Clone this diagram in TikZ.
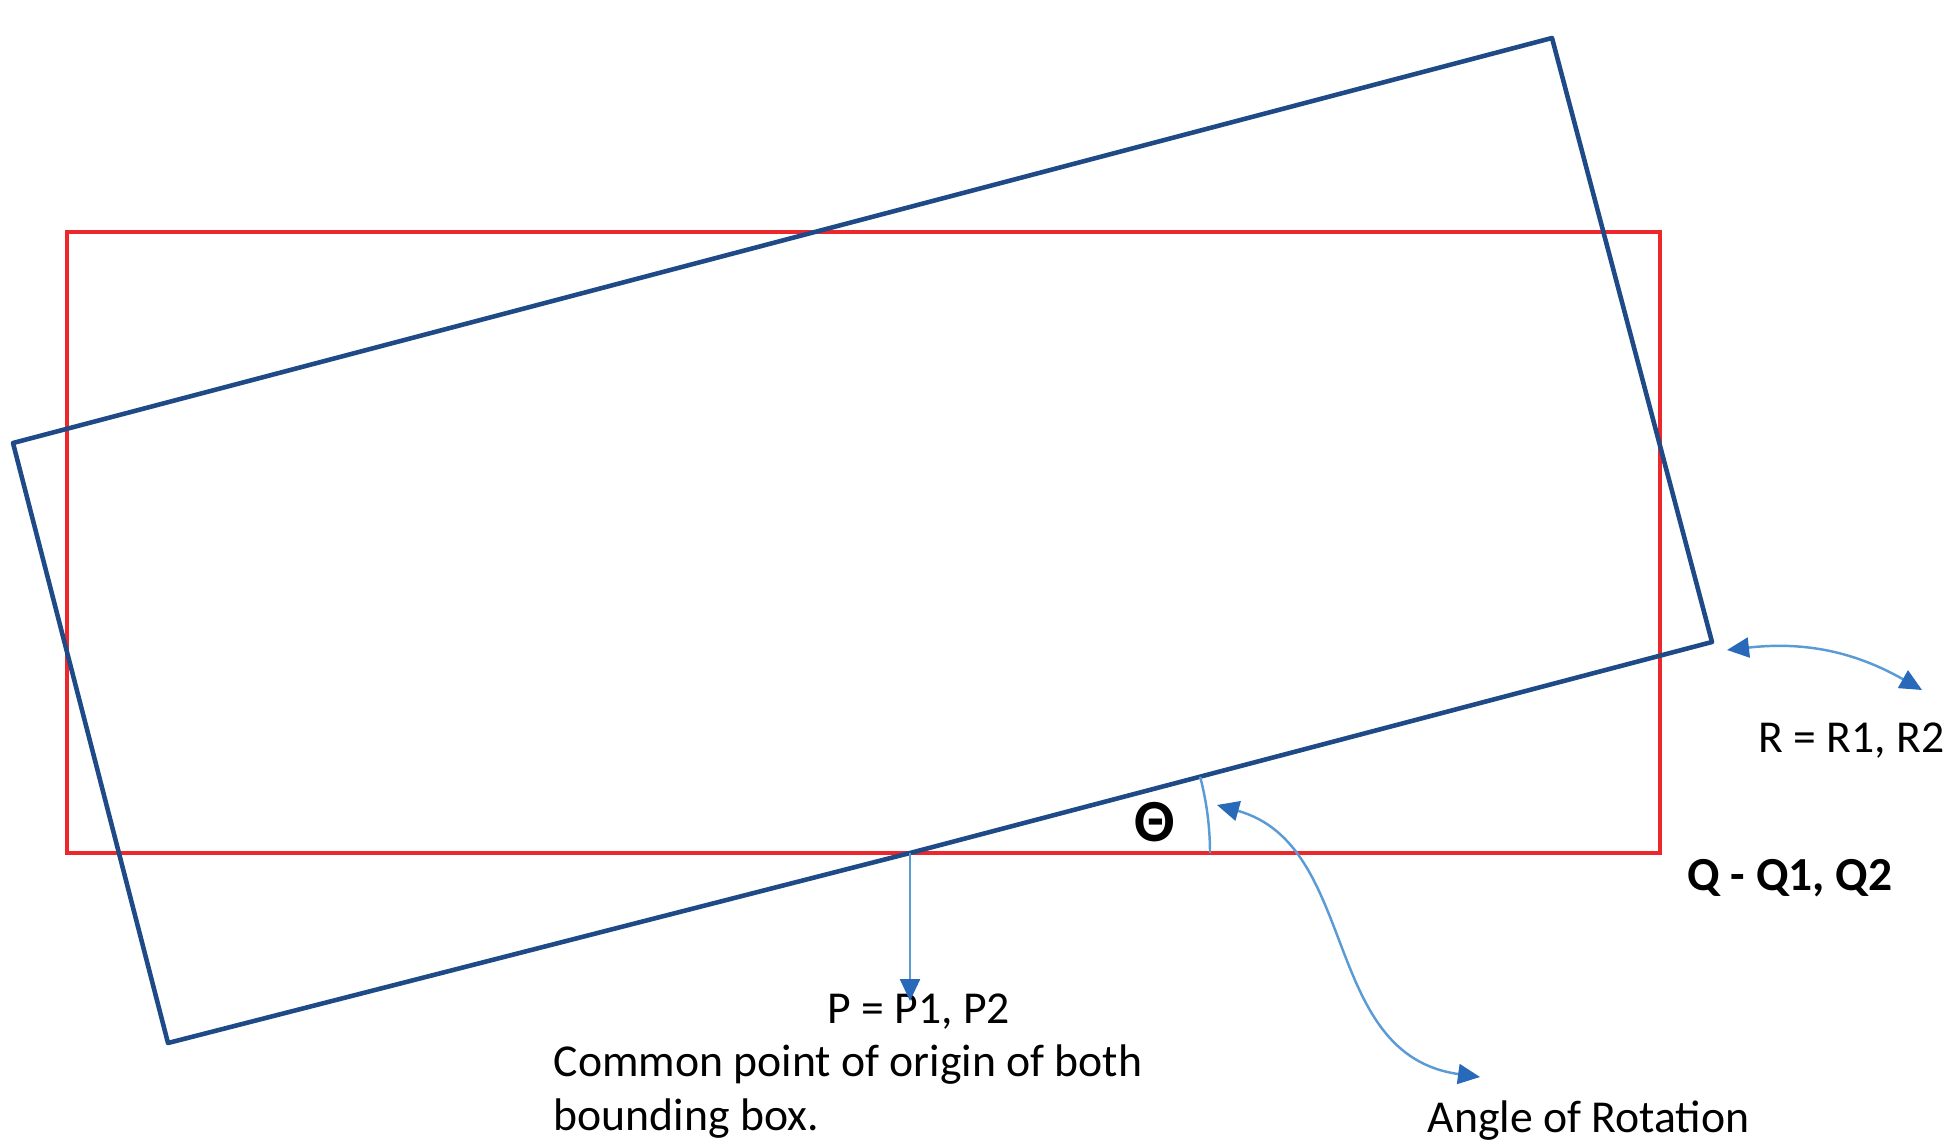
\documentclass[tikz,border=0pt]{standalone}
\usepackage{fontspec}
\setmainfont{Carlito}
\usetikzlibrary{arrows.meta}
\definecolor{boxred}{RGB}{237,40,45}
\definecolor{boxblue}{RGB}{30,75,135}
\definecolor{linkblue}{RGB}{91,155,213}
\definecolor{tipblue}{RGB}{40,105,185}
\begin{document}
\begin{tikzpicture}[
    txt/.style={font=\fontsize{13}{15.5}\selectfont, inner sep=0pt},
    tipend/.tip={Triangle[length=2.2mm, width=2mm, color=tipblue]},
    link/.style={linkblue, line width=0.7pt}
]
    \useasboundingbox (0,0) rectangle (19.48,11.45);
    % Исходная рамка
    \draw[boxred, line width=1pt] (0.67,2.92) rectangle (16.60,9.13);
    % Повёрнутая рамка
    \coordinate (cl) at (0.13,7.02);
    \coordinate (ct) at (15.52,11.07);
    \coordinate (cr) at (17.12,5.03);
    \coordinate (cb) at (1.68,1.02);
    \coordinate (P) at (9.10,2.92);
    \draw[boxblue, line width=1.3pt, line join=round] (cl) -- (ct) -- (cr) -- (P) -- (cb) -- cycle;
    % Угол
    \draw[link] (12.10,2.92) arc[start angle=0, end angle=14.7, radius=3];
    \node[font=\bfseries\fontsize{17}{17}\selectfont, inner sep=0pt] (theta) at (11.55,3.23) {Θ};
    % Подписи
    \node[txt, anchor=base west] (ptxt) at (8.27,1.22) {P = P1, P2};
    \node[txt, anchor=north west, align=left] (origin) at (5.53,1.01) {Common point of origin of both\\bounding box.};
    \node[txt, anchor=base west] (angtxt) at (14.27,0.13) {Angle of Rotation};
    \node[txt, anchor=base west] (rtxt) at (17.58,3.93) {R = R1, R2};
    \node[txt, anchor=base west, font=\bfseries\fontsize{13.5}{15}\selectfont] (qtxt) at (16.87,2.55) {Q - Q1, Q2};
    % Стрелки
    \coordinate (ptip) at (9.10,1.44);
    \coordinate (angstart) at (12.17,3.40);
    \coordinate (angtip) at (14.80,0.68);
    \coordinate (rstart) at (17.27,4.95);
    \coordinate (rtip) at (19.22,4.55);
    \draw[link, -tipend] (P) -- (ptip);
    \draw[link, tipend-tipend] (angstart) .. controls (13.6,3.0) and (13.2,0.9) .. (angtip);
    \draw[link, tipend-tipend] (rstart) to[bend left=18] (rtip);
\end{tikzpicture}
\end{document}
